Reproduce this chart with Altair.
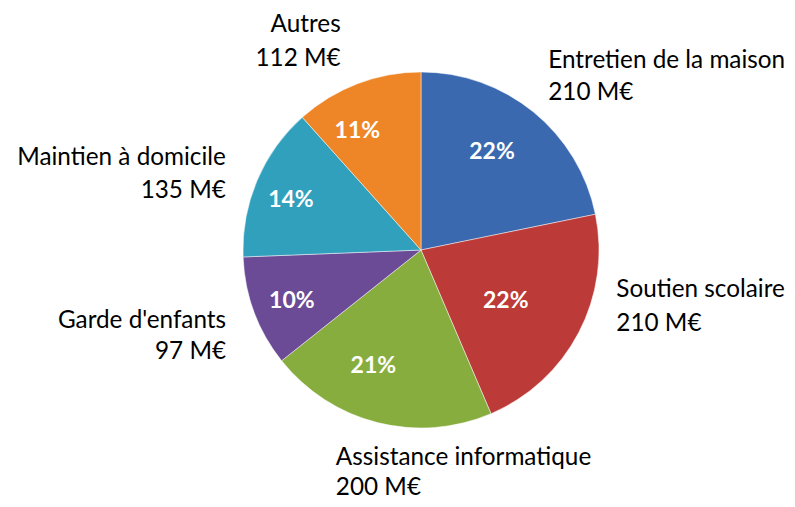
import altair as alt
import pandas as pd

categories = ["Entretien de la maison", "Soutien scolaire", "Assistance informatique",
              "Garde d'enfants", "Maintien à domicile", "Autres"]
values = [210, 210, 200, 97, 135, 112]
percent_labels = ["22%", "22%", "21%", "10%", "14%", "11%"]
colors = ["#3A69B0", "#BC3A37", "#88AD3F", "#6B4A96", "#31A0BD", "#EE8627"]

df = pd.DataFrame({
    "cat": categories,
    "value": values,
    "pct": percent_labels,
    "order": list(range(len(categories))),
})
df["label"] = df["cat"] + "\n" + df["value"].astype(str) + " M€"

CX, CY = 413, 242
FONT = "Lato"

pie = alt.Chart(df).mark_arc(
    outerRadius=178, stroke="#ffffff", strokeWidth=0.8, strokeOpacity=0.6
).encode(
    theta=alt.Theta("value:Q", stack=True),
    order=alt.Order("order:Q"),
    x=alt.value(CX),
    y=alt.value(CY),
    color=alt.Color("cat:N", scale=alt.Scale(domain=categories, range=colors), legend=None),
)

# mid-angle of each slice, computed from the data (clockwise from 12 o'clock)
text_base = alt.Chart(df).transform_window(
    cum="sum(value)", sort=[alt.SortField("order")], frame=[None, 0]
).transform_joinaggregate(
    total="sum(value)"
).transform_calculate(
    angle="(datum.cum - datum.value / 2) / datum.total * 2 * PI"
).encode(
    theta=alt.Theta("angle:Q", scale=None),
    x=alt.value(CX),
    y=alt.value(CY),
)

# style: (align, dx, dy, lineHeight) for outside labels, (dx, dy) for inside percentages
outside_style = {
    "Entretien de la maison": ("left", -15, -15, 32),
    "Soutien scolaire": ("left", -4, -64, 34),
    "Assistance informatique": ("left", -30, -10, 30),
    "Garde d'enfants": ("right", 16, -7, 31),
    "Maintien à domicile": ("right", 12, -4, 33),
    "Autres": ("right", 0, -15, 34),
}
inside_style = {
    "Entretien de la maison": (-8, -1),
    "Soutien scolaire": (-26, -7),
    "Assistance informatique": (-17, -5),
    "Garde d'enfants": (-12, 8),
    "Maintien à domicile": (-15, -1),
    "Autres": (-19, -2),
}

layers = [pie]
for cat in categories:
    a, dx, dy, lh = outside_style[cat]
    layers.append(
        text_base.transform_filter(alt.datum.cat == cat).mark_text(
            radius=225, align=a, baseline="middle", dx=dx, dy=dy,
            font=FONT, fontSize=24.3, lineBreak="\n", lineHeight=lh, color="#000000",
        ).encode(text="label:N")
    )
    pdx, pdy = inside_style[cat]
    layers.append(
        text_base.transform_filter(alt.datum.cat == cat).mark_text(
            radius=125, align="center", baseline="middle", dx=pdx, dy=pdy,
            font=FONT, fontSize=23, fontWeight="bold", color="#ffffff",
        ).encode(text="pct:N")
    )

chart = alt.layer(*layers).properties(
    width=779, height=491, autosize="none", padding=0, background="#ffffff",
).configure_view(stroke=None)

chart.save("out.html", embed_options={"renderer": "svg", "actions": False})
